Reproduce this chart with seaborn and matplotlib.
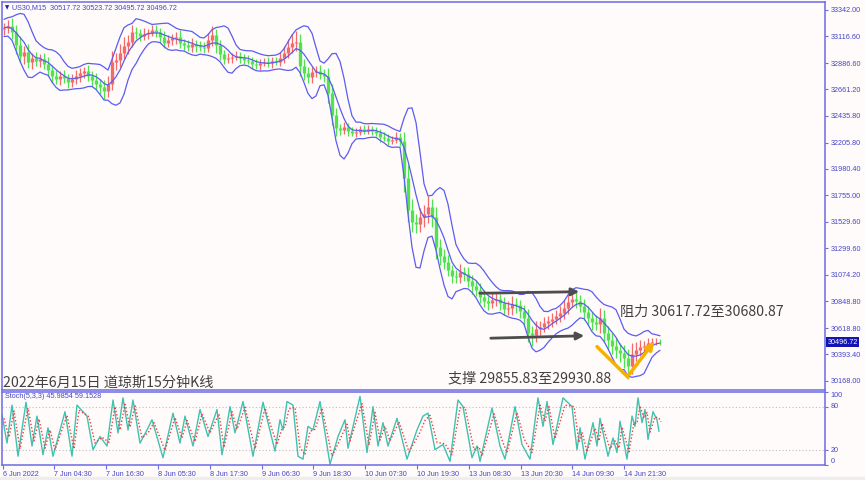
import matplotlib
matplotlib.use("Agg")
import matplotlib.pyplot as plt
import numpy as np
import pandas as pd
import seaborn as sns

# Data (one drawn candle per 4 x 15-min bars)
BAR_STEP = 4
FIRST_OPEN = 33180
closes = [33188, 33205, 33154, 33042, 32948, 32982, 32897, 32931, 32905, 32922,
          32880, 32828, 32777, 32751, 32777, 32760, 32725, 32751, 32777, 32803,
          32820, 32777, 32743, 32708, 32683, 32648, 32708, 32897, 32914, 32974,
          33034, 33068, 33154, 33145, 33119, 33137, 33145, 33171, 33154, 33111,
          33059, 33085, 33102, 33111, 33059, 33042, 33025, 33051, 33034, 33025,
          33017, 33085, 33128, 33042, 32965, 32922, 32931, 32940, 32948, 32931,
          32914, 32905, 32880, 32871, 32888, 32897, 32888, 32905, 32897, 32931,
          32974, 33025, 33059, 33068, 32863, 32803, 32768, 32811, 32820, 32794,
          32777, 32631, 32443, 32332, 32315, 32340, 32306, 32289, 32297, 32323,
          32306, 32323, 32306, 32289, 32255, 32246, 32220, 32229, 32255, 32220,
          31904, 31630, 31527, 31510, 31570, 31595, 31655, 31570, 31313, 31236,
          31184, 31116, 31065, 31056, 31099, 31082, 31022, 30979, 30945, 30885,
          30850, 30833, 30859, 30868, 30833, 30782, 30791, 30825, 30816, 30765,
          30705, 30576, 30559, 30611, 30628, 30662, 30679, 30696, 30722, 30748,
          30791, 30842, 30868, 30850, 30808, 30756, 30705, 30671, 30654, 30705,
          30576, 30517, 30465, 30431, 30405, 30362, 30294, 30397, 30431, 30457,
          30465, 30491, 30499, 30499, 30497]
# how far each candle's high / low reaches beyond its body (points)
hi_ext = [40, 55, 70, 60, 80, 50, 65, 45, 55, 40,
          50, 60, 45, 55, 40, 50, 35, 45, 55, 40,
          35, 50, 45, 60, 40, 55, 70, 90, 60, 75,
          80, 60, 55, 40, 35, 50, 30, 45, 40, 35,
          50, 40, 30, 45, 55, 35, 40, 50, 30, 45,
          40, 60, 75, 50, 45, 35, 40, 30, 45, 35,
          30, 40, 35, 45, 30, 35, 40, 30, 35, 50,
          60, 70, 80, 95, 70, 55, 50, 45, 40, 50,
          45, 70, 80, 60, 35, 40, 30, 35, 30, 25,
          30, 35, 25, 30, 35, 40, 30, 35, 40, 30,
          80, 110, 90, 70, 75, 80, 95, 70, 85, 65,
          55, 60, 45, 50, 65, 45, 55, 50, 45, 60,
          55, 45, 60, 50, 45, 55, 60, 70, 50, 45,
          55, 75, 60, 70, 55, 50, 45, 50, 55, 60,
          65, 70, 60, 55, 50, 60, 55, 50, 60, 85,
          70, 60, 55, 65, 60, 70, 80, 90, 65, 55,
          45, 40, 35, 30, 25]
lo_ext = [55, 40, 60, 75, 55, 70, 50, 60, 45, 55,
          45, 55, 60, 40, 50, 45, 55, 40, 45, 50,
          45, 40, 55, 45, 60, 70, 50, 55, 65, 60,
          55, 70, 45, 50, 40, 35, 45, 30, 40, 50,
          40, 35, 45, 50, 40, 45, 35, 40, 50, 35,
          45, 35, 50, 70, 55, 45, 35, 40, 30, 40,
          35, 30, 45, 35, 40, 30, 35, 40, 30, 35,
          40, 45, 50, 70, 90, 65, 55, 50, 45, 40,
          55, 90, 85, 70, 40, 35, 40, 30, 35, 30,
          25, 30, 35, 30, 40, 30, 35, 30, 25, 40,
          120, 100, 90, 80, 70, 85, 75, 90, 100, 80,
          60, 55, 65, 50, 55, 60, 50, 65, 55, 50,
          50, 60, 45, 55, 60, 50, 55, 65, 70, 60,
          70, 80, 90, 60, 55, 45, 50, 55, 45, 50,
          55, 50, 45, 60, 55, 65, 60, 70, 55, 80,
          75, 80, 70, 65, 75, 85, 110, 70, 60, 50,
          40, 35, 30, 25, 20]
header_ohlc = [30517.72, 30523.72, 30495.72, 30496.72]
last_price = 30496.72

price_ticks = [33342.00, 33116.60, 32886.60, 32661.20, 32435.80, 32205.80,
               31980.40, 31755.00, 31529.60, 31299.60, 31074.20, 30848.80,
               30618.80, 30393.40, 30168.00]

# x axis in 15-min bar units
date_ticks = [3, 54, 106, 158, 210, 262, 313, 365, 417, 469, 521, 572, 624]
date_labels = ['6 Jun 2022', '7 Jun 04:30', '7 Jun 16:30', '8 Jun 05:30', '8 Jun 17:30',
               '9 Jun 06:30', '9 Jun 18:30', '10 Jun 07:30', '10 Jun 19:30',
               '13 Jun 08:30', '13 Jun 20:30', '14 Jun 09:30', '14 Jun 21:30']

# Stochastic (5,3,3) turning points
stoch_x = [2, 7, 12, 18, 26, 32, 37, 43, 48, 53, 65, 72, 77, 87, 93, 100, 107, 113, 118, 123,
           128, 133, 140, 147, 152, 163, 173, 180, 185, 193, 200, 208, 217, 222, 230, 235, 243,
           253, 263, 275, 280, 283, 287, 293, 298, 303, 308, 313, 320, 330, 338, 345, 348, 360,
           367, 373, 378, 383, 388, 397, 407, 417, 423, 428, 435, 443, 450, 458, 463, 472, 477,
           480, 492, 500, 505, 515, 522, 530, 538, 543, 547, 553, 563, 572, 577, 580, 585, 593,
           597, 600, 608, 613, 617, 620, 627, 632, 635, 638, 642, 645, 648, 653, 657, 659]
stoch_main = [69, 30, 82, 12, 86, 26, 67, 14, 51, 12, 73, 12, 82, 67, 21, 39, 26, 89, 44, 92,
              48, 89, 30, 48, 62, 10, 71, 30, 67, 26, 76, 39, 76, 14, 80, 44, 87,
              12, 86, 19, 62, 48, 87, 82, 12, 8, 53, 48, 87, 1, 39, 62, 23, 94,
              17, 80, 26, 58, 26, 64, 8, 48, 67, 71, 21, 28, 5, 89, 80, 10, 26,
              5, 78, 26, 8, 80, 28, 8, 92, 53, 87, 28, 92, 80, 21, 51, 8, 58,
              26, 64, 12, 37, 17, 60, 8, 67, 53, 92, 58, 76, 35, 73, 62, 46]
stoch_signal = [64, 38, 74, 22, 78, 33, 63, 23, 48, 21, 68, 22, 75, 66, 30, 38, 31, 80, 48, 83,
                52, 81, 37, 46, 58, 20, 65, 37, 61, 32, 70, 44, 70, 24, 73, 49, 79,
                22, 78, 28, 50, 52, 77, 79, 24, 14, 46, 49, 78, 12, 35, 56, 33, 84,
                27, 72, 34, 53, 33, 59, 18, 42, 61, 68, 31, 29, 14, 78, 79, 21, 25,
                12, 70, 34, 17, 72, 36, 17, 82, 60, 80, 36, 82, 80, 31, 45, 18, 50,
                33, 57, 22, 33, 23, 52, 18, 58, 57, 81, 64, 72, 45, 66, 64, 59]
stoch_now = [45.9854, 59.1528]
stoch_levels = [20, 80]
stoch_ticks = [100, 80, 20, 0]

resistance = [30617.72, 30680.87]
support = [29855.83, 29930.88]

# Colours
UP = '#f46a6a'
DOWN = '#4fe34f'
BAND = '#5c5cf0'
FRAME = '#6b6be4'
LABEL = '#4545c8'
TEXT = '#404040'
ORANGE = '#f6b100'
W, H = 865, 480


def box(l, t, r, b):
    return [l / W, 1 - b / H, (r - l) / W, (b - t) / H]


sns.set_style('white')
plt.rcParams['font.family'] = ['Liberation Sans', 'DejaVu Sans']
CJK = ['Noto Sans CJK SC', 'DejaVu Sans']

fig = plt.figure(figsize=(W / 100, H / 100), dpi=100, facecolor='#fffbfa')
ax = fig.add_axes(box(2, 2, 825, 390))
ax2 = fig.add_axes(box(2, 392, 825, 465))
for a in (ax, ax2):
    a.set_facecolor('#fffbfa')
    a.set_xlim(2, 825)
    for s in a.spines.values():
        s.set_color(FRAME)
        s.set_linewidth(1.1)
ax.set_ylim(30088, 33410)
ax2.set_ylim(0, 100)

# Candles (open = previous close)
c = np.array(closes, dtype=float)
o = np.array([FIRST_OPEN] + closes[:-1], dtype=float)
hi = np.maximum(o, c) + np.array(hi_ext)
lo = np.minimum(o, c) - np.array(lo_ext)
x = BAR_STEP * (np.arange(len(c)) + 1)
up = c >= o
for m, col in [(up, UP), (~up, DOWN)]:
    ax.vlines(x[m], lo[m], hi[m], color=col, lw=0.9)
    ax.vlines(x[m], o[m], c[m], color=col, lw=2.4)

# Bollinger bands: SMA(5) of closes, spread from the full bar range in the window
PERIOD, DEV = 5, 2
ohlc = np.column_stack([o, hi, lo, c])
mid = pd.Series(c).rolling(PERIOD, min_periods=1).mean().values
sd = np.array([ohlc[max(0, i - PERIOD + 1):i + 1].std() for i in range(len(c))])
bands = pd.DataFrame({'x': x, 'upper': mid + DEV * sd, 'mid': mid, 'lower': mid - DEV * sd})
for col in ['upper', 'mid', 'lower']:
    sns.lineplot(data=bands, x='x', y=col, ax=ax, color=BAND, lw=0.9)

# Arrows and annotations
ax.annotate('', xy=(582, 30930), xytext=(477, 30916),
            arrowprops=dict(arrowstyle='-|>', color='#4d4d4d', lw=2, mutation_scale=11))
ax.annotate('', xy=(587, 30553), xytext=(488, 30531),
            arrowprops=dict(arrowstyle='-|>', color='#4d4d4d', lw=2, mutation_scale=11))
ax.plot([597, 628], [30459, 30197], color=ORANGE, lw=2.5, solid_capstyle='round')
ax.annotate('', xy=(656, 30522), xytext=(627, 30197),
            arrowprops=dict(arrowstyle='-|>', color=ORANGE, lw=2.5, mutation_scale=11))
ax.text(620, 30759, f'阻力 {resistance[0]:.2f}至{resistance[1]:.2f}', family=CJK,
        fontsize=10.2, color=TEXT, va='center')
ax.text(448, 30191, f'支撑 {support[0]:.2f}至{support[1]:.2f}', family=CJK,
        fontsize=10.2, color=TEXT, va='center')
ax.text(3, 30148, '2022年6月15日 道琼斯15分钟K线', family=CJK,
        fontsize=10.2, color=TEXT, va='center')

# Header / indicator captions
fig.text(5 / W, 1 - 7.5 / H, '\u25BC', fontsize=4, color='#2020a0', va='center', family='DejaVu Sans')
fig.text(12 / W, 1 - 7.5 / H, 'US30,M15  ' + ' '.join(f'{v:.2f}' for v in header_ohlc),
         fontsize=5.2, color=LABEL, va='center')
fig.text(5 / W, 1 - 397 / H, f'Stoch(5,3,3) {stoch_now[0]:.4f} {stoch_now[1]:.4f}',
         fontsize=5.2, color=LABEL, va='center')

# Price axis on the right
ax.yaxis.tick_right()
ax.set_yticks(price_ticks)
ax.set_yticklabels([f'{p:.2f}' for p in price_ticks])
ax.tick_params(axis='y', colors=FRAME, labelcolor=LABEL, labelsize=5.2, length=2, pad=2)
ax.set_xticks([])
ax.set_xlabel('')
ax.set_ylabel('')
ax.text(1.003, last_price, f'{last_price:.2f}', transform=ax.get_yaxis_transform(),
        fontsize=5.2, color='white', va='center', ha='left',
        bbox=dict(boxstyle='square,pad=0.2', fc='#1414b4', ec='none'))

# Stochastic panel
for lv in stoch_levels:
    ax2.axhline(lv, color='#bdbdbd', lw=0.8, ls=(0, (1, 2)))
sns.lineplot(x=stoch_x, y=stoch_main, ax=ax2, color='#3fc2b0', lw=1.0, sort=False)
sns.lineplot(x=np.array(stoch_x) + 2, y=stoch_signal, ax=ax2, color='#f03c3c', lw=1.0,
             ls=(0, (1, 1.5)), sort=False)
ax2.yaxis.tick_right()
ax2.set_yticks(stoch_ticks)
ax2.set_yticklabels([str(t) for t in stoch_ticks])
for lab, t in zip(ax2.get_yticklabels(), stoch_ticks):
    lab.set_va('top' if t == 100 else ('bottom' if t == 0 else 'center'))
ax2.tick_params(axis='y', colors=FRAME, labelcolor=LABEL, labelsize=5.2, length=2, pad=2)
ax2.set_xticks(date_ticks)
ax2.set_xticklabels(date_labels)
for lab in ax2.get_xticklabels():
    lab.set_ha('left')
ax2.tick_params(axis='x', colors=FRAME, labelcolor=LABEL, labelsize=5.2, length=3, pad=1.5,
                bottom=True)
ax2.set_xlabel('')
ax2.set_ylabel('')

fig.patches.append(plt.Rectangle((0, 0), 1, 3 / H, transform=fig.transFigure,
                                 color='#eeeeee', zorder=-1))
fig.savefig('out.png', dpi=100, facecolor=fig.get_facecolor())
